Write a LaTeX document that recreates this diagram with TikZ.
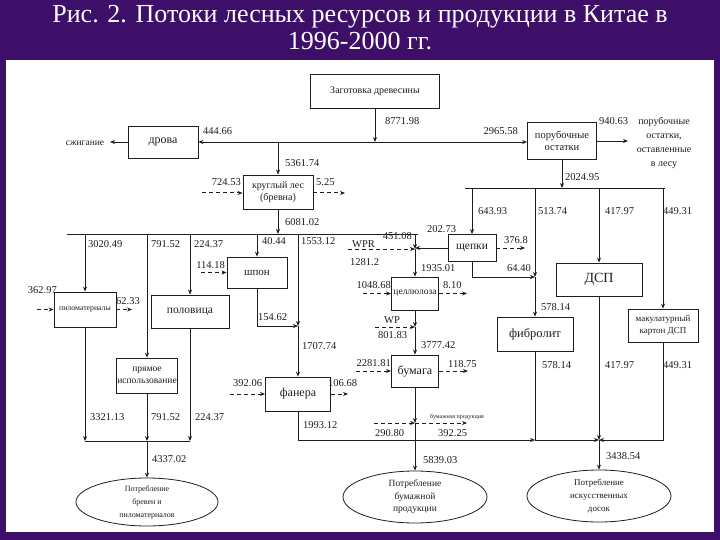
\documentclass[tikz,border=0pt]{standalone}
\usepackage{fontspec}
\setmainfont{Liberation Serif}
\usetikzlibrary{arrows.meta,shapes.geometric}
\definecolor{bgp}{HTML}{3E0F68}
\definecolor{ink}{HTML}{1E1E1E}
\newcommand{\fs}[1]{\fontsize{#1}{#1}\selectfont}
\begin{document}
\begin{tikzpicture}[x=1pt,y=-1pt,
  ln/.style={draw=ink,line width=0.8pt},
  arr/.style={ln,-{Stealth[length=5pt,width=4pt]}},
  darr/.style={draw=ink,line width=1pt,dash pattern=on 4pt off 3pt,-{Stealth[length=5pt,width=4pt]}},
  bx/.style={draw=ink,line width=0.8pt,inner sep=0.5pt,align=center,text=ink,font=\fontsize{9}{10}\selectfont},
  ell/.style={draw=ink,line width=0.8pt,ellipse,inner sep=0pt,align=center,text=ink,font=\fontsize{8}{13}\selectfont},
  lab/.style={text=ink,inner sep=0pt,font=\fontsize{10.5}{11}\selectfont},
  ttl/.style={text=white,inner sep=0pt,font=\fontsize{26}{27}\selectfont}]
\useasboundingbox (0,0) rectangle (720,540);
\fill[bgp] (0,0) rectangle (720,540);
\fill[white] (6,60) rectangle (714,532);
\node[ttl,anchor=base] (t1) at (360,23) {Рис. 2. Потоки лесных ресурсов и продукции в Китае в};
\node[ttl,anchor=base] (t2) at (360,50) {1996-2000 гг.};

% boxes
\node[bx,minimum width=129,minimum height=34,font=\fs{10}] (zag) at (375,91) {Заготовка древесины};
\node[bx,minimum width=70,minimum height=32,font=\fs{12}] (drova) at (163,142) {дрова};
\node[bx,minimum width=69,minimum height=37,font=\fontsize{10.5}{12}\selectfont] (porub) at (562,141) {порубочные\\остатки};
\node[bx,minimum width=70,minimum height=34,font=\fontsize{10}{12}\selectfont] (krug) at (278,192) {круглый лес\\(бревна)};
\node[bx,minimum width=62,minimum height=35,font=\fs{7.8}] (pilo) at (85,309.5) {пиломатериалы};
\node[bx,minimum width=61,minimum height=35,font=\fontsize{9.5}{12}\selectfont] (pryam) at (147,375.5) {прямое\\использование};
\node[bx,minimum width=78,minimum height=33,font=\fs{11.5}] (polov) at (190,311.5) {половица};
\node[bx,minimum width=60,minimum height=31,font=\fs{11}] (shpon) at (257,272.5) {шпон};
\node[bx,minimum width=65,minimum height=34,font=\fs{12}] (fanera) at (298,394) {фанера};
\node[bx,minimum width=47,minimum height=33,font=\fs{9.5}] (celul) at (415,293.5) {целлюлоза};
\node[bx,minimum width=47,minimum height=32,font=\fs{12}] (bumaga) at (415,371) {бумага};
\node[bx,minimum width=48,minimum height=27,font=\fs{11.5}] (shchep) at (472,248) {щепки};
\node[bx,minimum width=86,minimum height=33,font=\fs{14}] (dsp) at (599,279.5) {ДСП};
\node[bx,minimum width=76,minimum height=34,font=\fs{12.5}] (fibro) at (535,334) {фибролит};
\node[bx,minimum width=70,minimum height=33,font=\fontsize{9}{12}\selectfont] (makul) at (663,325.5) {макулатурный\\картон ДСП};
\node[ell,minimum width=142,minimum height=48,font=\fontsize{8}{13}\selectfont] (e1) at (147,502) {Потребление\\бревен и\\пиломатериалов};
\node[ell,minimum width=144,minimum height=52,font=\fontsize{9.5}{12.5}\selectfont] (e2) at (415,497) {Потребление\\бумажной\\продукции};
\node[ell,minimum width=144,minimum height=52,font=\fontsize{9}{13}\selectfont] (e3) at (599,496) {Потребление\\искусственных\\досок};

% top connectors
\coordinate (j1) at (375,142);
\draw[arr] (zag.south) -- (j1);
\draw[arr] (j1) -- (drova.east);
\draw[arr] (j1) -- (j1 -| porub.west);
\coordinate (sz) at (110,142);
\draw[arr] (drova.west) -- (sz);
\node[lab,font=\fs{9.5}] (szt) at (85,143) {сжигание};
\coordinate (po) at (628,141);
\draw[arr] (porub.east) -- (po);
\node[lab,align=center,font=\fontsize{10}{14}\selectfont] (ostt) at (664,143) {порубочные\\остатки,\\оставленные\\в лесу};
\coordinate (j2) at (278,142);
\draw[arr] (j2) -- (krug.north);
\coordinate (kin) at (202,193);
\draw[darr] (kin) -- (kin -| krug.west);
\coordinate (kout) at (345,193);
\draw[darr] (kout -| krug.east) -- (kout);
\coordinate (j3) at (278,234);
\draw[arr] (krug.south) -- (j3);

% main left line
\coordinate (mL) at (67,234);
\coordinate (mR) at (418,234);
\draw[ln] (mL) -- (mR);
\draw[arr] (pilo.north |- mL) -- (pilo.north);
\draw[arr] (pryam.north |- mL) -- (pryam.north);
\draw[arr] (polov.north |- mL) -- (polov.north);
\draw[arr] (shpon.north |- mL) -- (shpon.north);
\coordinate (jf) at (298,326);
\draw[arr] (fanera.north |- mL) -- (jf);
\draw[arr] (jf) -- (fanera.north);
\draw[arr] (shpon.south) -- (shpon.south |- jf) -- (jf);
\coordinate (pin) at (37,309.5);
\draw[darr] (pin) -- (pilo.west);
\coordinate (pout) at (132,309.5);
\draw[darr] (pilo.east) -- (pout);
\coordinate (sin) at (201,272.5);
\draw[darr] (sin) -- (shpon.west);
\coordinate (fin) at (230,394);
\draw[darr] (fin) -- (fanera.west);
\coordinate (fout) at (348,394);
\draw[darr] (fanera.east) -- (fout);

% left bottom
\coordinate (jl) at (147,441);
\draw[arr] (pilo.south) -- (pilo.south |- jl);
\draw[arr] (pryam.south) -- (jl);
\draw[arr] (polov.south) -- (polov.south |- jl);
\draw[ln] (pilo.south |- jl) -- (polov.south |- jl);
\draw[arr] (jl) -- (e1.north);

% paper column
\coordinate (jc1) at (415,234);
\coordinate (jc2) at (415,249);
\draw[arr] (jc1) -- (jc2);
\draw[arr] (jc2) -- (celul.north);
\coordinate (wpr) at (348,249);
\draw[darr] (wpr) -- (jc2);
\draw[arr] (shchep.west) -- (shchep.west -| jc2);
\coordinate (cin) at (363,293.5);
\draw[darr] (cin) -- (celul.west);
\coordinate (cout) at (467,293.5);
\draw[darr] (celul.east) -- (cout);
\coordinate (jw) at (415,327);
\draw[arr] (celul.south) -- (jw);
\draw[arr] (jw) -- (bumaga.north);
\coordinate (wp) at (375,327);
\draw[darr] (wp) -- (jw);
\coordinate (bin) at (356,371);
\draw[darr] (bin) -- (bumaga.west);
\coordinate (bout) at (468,371);
\draw[darr] (bumaga.east) -- (bout);
\coordinate (jb) at (415,423);
\draw[arr] (bumaga.south) -- (jb);
\coordinate (pin2) at (374,423);
\draw[darr] (pin2) -- (jb);
\coordinate (pout2) at (467,423);
\draw[darr] (jb) -- (pout2);
\draw[arr] (jb) -- (e2.north);

% right part
\coordinate (rL) at (465,188);
\coordinate (rR) at (665,188);
\draw[ln] (rL) -- (rR);
\draw[arr] (porub.south) -- (porub.south |- rL);
\draw[arr] (shchep.north |- rL) -- (shchep.north);
\coordinate (jfb) at (535,277);
\draw[arr] (fibro.north |- rL) -- (jfb);
\draw[arr] (jfb) -- (fibro.north);
\draw[arr] (shchep.south) -- (shchep.south |- jfb) -- (jfb);
\coordinate (scout) at (525,248);
\draw[darr] (shchep.east) -- (scout);
\draw[arr] (dsp.north |- rL) -- (dsp.north);
\draw[arr] (makul.north |- rL) -- (makul.north);

% bottom right
\coordinate (jfib) at (535,440);
\coordinate (jd) at (599,440);
\draw[arr] (fanera.south) -- (fanera.south |- jfib) -- (jfib);
\draw[ln] (fibro.south) -- (jfib);
\draw[arr] (jfib) -- (jd);
\draw[arr] (dsp.south) -- (jd);
\draw[arr] (makul.south) -- (makul.south |- jd) -- (jd);
\draw[arr] (jd) -- (e3.north);

% labels
\node[lab,anchor=west] (n1) at (385,121) {8771.98};
\node[lab,anchor=west] (n2) at (203,131) {444.66};
\node[lab,anchor=east] (n3) at (518,131) {2965.58};
\node[lab,anchor=west] (n4) at (285,163) {5361.74};
\node[lab,anchor=east] (n5) at (241,182) {724.53};
\node[lab,anchor=west] (n6) at (316,182) {5.25};
\node[lab,anchor=west] (n7) at (285,222) {6081.02};
\node[lab,anchor=west] (n8) at (599,121) {940.63};
\node[lab,anchor=west] (n9) at (565,177) {2024.95};
\node[lab,anchor=west] (n10) at (478,211) {643.93};
\node[lab,anchor=west] (n11) at (538,211) {513.74};
\node[lab,anchor=west] (n12) at (605,211) {417.97};
\node[lab,anchor=west] (n13) at (663,211) {449.31};
\node[lab,anchor=west] (n14) at (88,244) {3020.49};
\node[lab,anchor=west] (n15) at (151,244) {791.52};
\node[lab,anchor=west] (n16) at (194,244) {224.37};
\node[lab,anchor=west] (n17) at (262,241) {40.44};
\node[lab,anchor=west] (n18) at (301,241) {1553.12};
\node[lab,anchor=east] (n19) at (412,236) {451.08};
\node[lab,anchor=west] (n20) at (427,229) {202.73};
\node[lab,anchor=west] (n21) at (352,244) {WPR};
\node[lab,anchor=west] (n22) at (350,262) {1281.2};
\node[lab,anchor=west] (n23) at (421,268) {1935.01};
\node[lab,anchor=west] (n24) at (504,240) {376.8};
\node[lab,anchor=east] (n25) at (531,268) {64.40};
\node[lab,anchor=east] (n26) at (225,265) {114.18};
\node[lab,anchor=east] (n27) at (57,290) {362.97};
\node[lab,anchor=west] (n28) at (116,301) {62.33};
\node[lab,anchor=east] (n29) at (391,285) {1048.68};
\node[lab,anchor=west] (n30) at (443,285) {8.10};
\node[lab,anchor=west] (n31) at (258,317) {154.62};
\node[lab,anchor=west] (n32) at (541,307) {578.14};
\node[lab,anchor=west] (n33) at (384,320) {WP};
\node[lab,anchor=west] (n34) at (378,335) {801.83};
\node[lab,anchor=west] (n35) at (302,346) {1707.74};
\node[lab,anchor=west] (n36) at (421,345) {3777.42};
\node[lab,anchor=east] (n37) at (391,363) {2281.81};
\node[lab,anchor=west] (n38) at (448,364) {118.75};
\node[lab,anchor=west] (n39) at (542,365) {578.14};
\node[lab,anchor=west] (n40) at (605,365) {417.97};
\node[lab,anchor=west] (n41) at (663,365) {449.31};
\node[lab,anchor=west] (n42) at (233,383) {392.06};
\node[lab,anchor=west] (n43) at (328,383) {106.68};
\node[lab,anchor=west] (n44) at (90,417) {3321.13};
\node[lab,anchor=west] (n45) at (151,417) {791.52};
\node[lab,anchor=west] (n46) at (195,417) {224.37};
\node[lab,anchor=west] (n47) at (303,425) {1993.12};
\node[lab,anchor=west,font=\fs{6}] (n48) at (430,417) {бумажная продукция};
\node[lab,anchor=west] (n49) at (375,433) {290.80};
\node[lab,anchor=west] (n50) at (438,433) {392.25};
\node[lab,anchor=west] (n51) at (152,459) {4337.02};
\node[lab,anchor=west] (n52) at (423,460) {5839.03};
\node[lab,anchor=west] (n53) at (606,456) {3438.54};
\end{tikzpicture}
\end{document}
